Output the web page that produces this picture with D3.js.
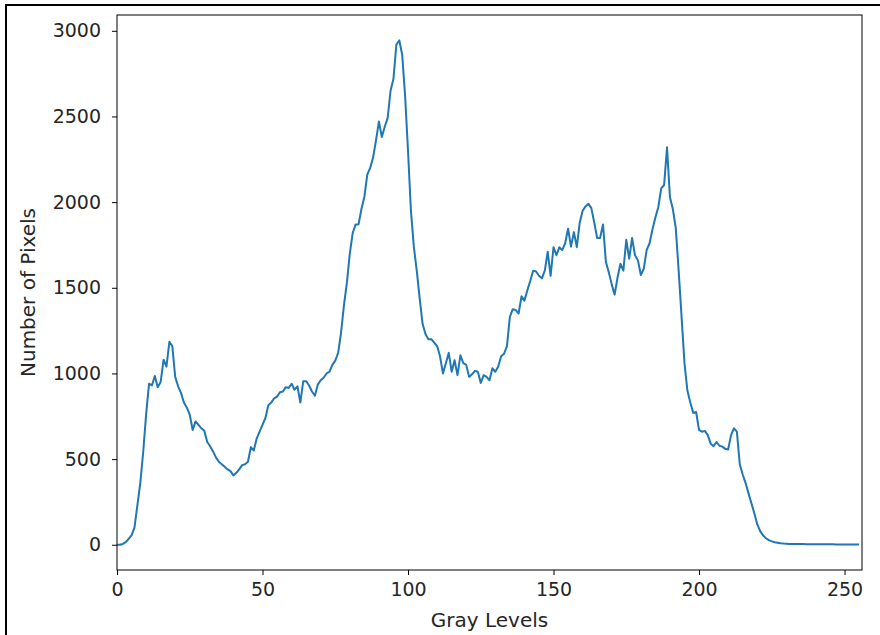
<!DOCTYPE html>
<html>
<head>
<meta charset="utf-8">
<script src="https://cdnjs.cloudflare.com/ajax/libs/d3/7.8.5/d3.min.js"></script>
<style>
  body { margin: 0; background: #fff; }
  text { font-family: "DejaVu Sans", sans-serif; fill: #262626; }
</style>
</head>
<body>
<div id="chart"></div>
<script>
// histogram counts for gray levels 0..255
var counts = [
  0, 0, 5, 15, 35, 55, 100, 230, 360, 540,
  760, 940, 930, 985, 920, 950, 1080, 1040, 1185, 1160,
  980, 925, 885, 830, 800, 760, 670, 720, 700, 680,
  665, 600, 575, 545, 510, 485, 470, 455, 440, 430,
  405, 420, 440, 465, 470, 485, 570, 550, 620, 660,
  700, 740, 815, 830, 855, 865, 890, 895, 920, 915,
  940, 905, 925, 830, 955, 955, 930, 895, 870, 935,
  960, 975, 1000, 1010, 1050, 1075, 1120, 1240, 1400, 1530,
  1700, 1820, 1870, 1870, 1960, 2030, 2160, 2200, 2260, 2360,
  2470, 2380, 2440, 2490, 2650, 2720, 2920, 2945, 2860, 2620,
  2300, 1950, 1740, 1600, 1440, 1290, 1230, 1200, 1200, 1180,
  1160, 1100, 1000, 1060, 1120, 1010, 1077, 990, 1106, 1060,
  1050, 980, 995, 1015, 1010, 945, 990, 980, 960, 1030,
  1010, 1040, 1100, 1115, 1160, 1330, 1375, 1370, 1350, 1450,
  1425, 1485, 1540, 1600, 1595, 1570, 1555, 1600, 1710, 1570,
  1737, 1690, 1737, 1720, 1760, 1845, 1740, 1825, 1737, 1880,
  1950, 1975, 1990, 1965, 1880, 1790, 1790, 1870, 1650, 1590,
  1520, 1460, 1560, 1640, 1600, 1780, 1670, 1790, 1690, 1660,
  1575, 1610, 1720, 1760, 1840, 1910, 1970, 2080, 2100, 2320,
  2030, 1960, 1850, 1600, 1330, 1060, 900, 830, 770, 775,
  670, 660, 665, 640, 590, 575, 600, 578, 573, 560,
  556, 640, 680, 660, 470, 410, 360, 300, 242, 184,
  120, 80, 55, 38, 27, 20, 15, 12, 9, 7,
  6, 5, 5, 4, 4, 4, 4, 3, 3, 3,
  3, 3, 3, 3, 3, 3, 3, 2, 2, 2,
  2, 2, 2, 2, 2, 2
];
var xTicks = [0, 50, 100, 150, 200, 250];
var yTicks = [0, 500, 1000, 1500, 2000, 2500, 3000];
var xTitle = "Gray Levels";
var yTitle = "Number of Pixels";

var WIDTH = 880, HEIGHT = 635;
// plot area box
var PL = 117, PR = 862, PT = 15, PB = 570;

var svg = d3.select("#chart")
  .append("svg")
    .attr("width", WIDTH)
    .attr("height", HEIGHT);

// outer frame of the screenshot
svg.append("path")
    .attr("d", "M6," + HEIGHT + " L6,5 L" + WIDTH + ",5")
    .attr("fill", "none")
    .attr("stroke", "black")
    .attr("stroke-width", 2);

var x = d3.scaleLinear().domain([0, 256]).range([PL, PR]);

// matplotlib style 5% margin
var yMax = d3.max(counts), yMin = d3.min(counts);
var pad = (yMax - yMin) * 0.05;
var y = d3.scaleLinear().domain([yMin - pad, yMax + pad]).range([PB, PT]);

svg.append("clipPath")
    .attr("id", "clip")
  .append("rect")
    .attr("x", PL)
    .attr("y", PT)
    .attr("width", PR - PL)
    .attr("height", PB - PT);

var line = d3.line()
  .x(function(d, i) { return x(i); })
  .y(function(d) { return y(d); });

svg.append("path")
    .datum(counts)
    .attr("clip-path", "url(#clip)")
    .attr("fill", "none")
    .attr("stroke", "#1f77b4")
    .attr("stroke-width", 2)
    .attr("stroke-linejoin", "round")
    .attr("d", line);

var xAxis = svg.append("g")
    .attr("transform", "translate(0," + PB + ")")
    .call(d3.axisBottom(x).tickValues(xTicks).tickSize(5).tickPadding(8).tickFormat(d3.format("d")));

var yAxis = svg.append("g")
    .attr("transform", "translate(" + PL + ",0)")
    .call(d3.axisLeft(y).tickValues(yTicks).tickSize(5).tickPadding(11).tickFormat(d3.format("d")));

[xAxis, yAxis].forEach(function(g) {
  g.select(".domain").remove();
  g.selectAll("line").attr("stroke", "black").attr("stroke-width", 1);
  g.selectAll("text").style("font-size", "19px").attr("fill", "#262626");
});

// axes frame
svg.append("rect")
    .attr("x", PL)
    .attr("y", PT)
    .attr("width", PR - PL)
    .attr("height", PB - PT)
    .attr("fill", "none")
    .attr("stroke", "black")
    .attr("stroke-width", 1);

svg.append("text")
    .attr("x", (PL + PR) / 2)
    .attr("y", 627)
    .attr("text-anchor", "middle")
    .style("font-size", "20px")
    .text(xTitle);

svg.append("text")
    .attr("transform", "translate(35," + ((PT + PB) / 2) + ") rotate(-90)")
    .attr("text-anchor", "middle")
    .style("font-size", "20px")
    .text(yTitle);
</script>
</body>
</html>
